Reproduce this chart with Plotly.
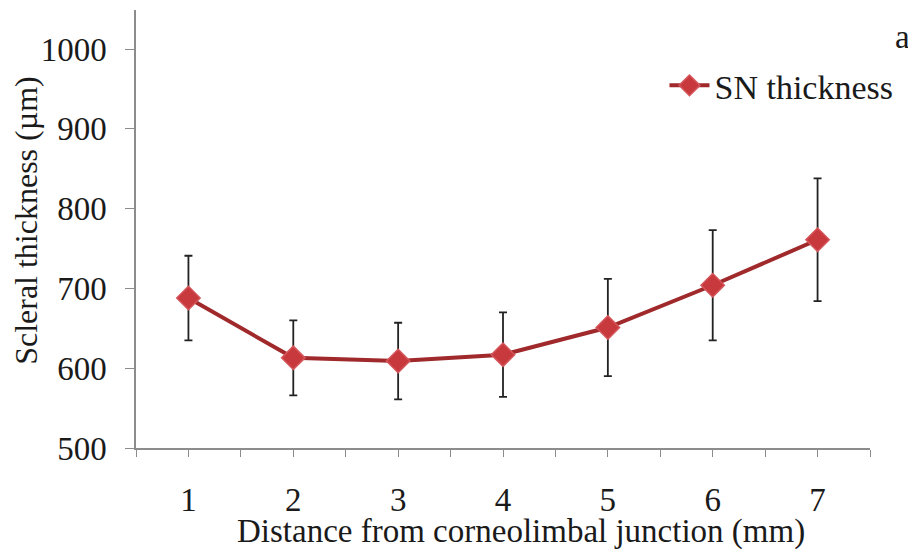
import plotly.graph_objects as go

distance = [1, 2, 3, 4, 5, 6, 7]
tick_labels = ["1", "2", "3", "4", "5", "6", "7"]
sn_thickness = [688, 613, 609, 617, 651, 704, 761]
sn_error = [53, 47, 48, 53, 61, 69, 77]

tickvals = []
ticktext = []
for i, d in enumerate(distance):
    tickvals.append(d - 0.5)
    ticktext.append("")
    tickvals.append(d)
    ticktext.append(tick_labels[i])
tickvals.append(distance[-1] + 0.5)
ticktext.append("")

serif = "Liberation Serif, Times New Roman, serif"
FS = 33

# page body has an 8px default margin; size the figure to fit the 916x551 window
fig = go.Figure()
fig.add_trace(go.Scatter(
    x=distance, y=sn_thickness, name="SN thickness",
    mode="lines+markers",
    line=dict(color="#A0292C", width=4),
    marker=dict(symbol="diamond", size=18, color="#C8393D",
                line=dict(color="#D4555A", width=1.5)),
    error_y=dict(type="data", array=sn_error, visible=True,
                 color="#222222", thickness=1.8, width=4),
))

fig.update_layout(
    width=908, height=543,
    margin=dict(l=128, r=46, t=2, b=103),
    paper_bgcolor="white", plot_bgcolor="white",
    font=dict(family=serif, size=FS, color="#1a1a1a"),
    showlegend=True,
    legend=dict(x=0.72, y=0.827, xanchor="left", yanchor="middle",
                bgcolor="rgba(0,0,0,0)", font=dict(size=34, family=serif),
                itemwidth=40),
    xaxis=dict(
        range=[0.5, 7.5], tickmode="array", tickvals=tickvals, ticktext=ticktext,
        showgrid=False, zeroline=False, showline=True, linecolor="#8c8c8c",
        linewidth=1.5, ticks="outside", ticklen=7, tickcolor="#8c8c8c",
        tickfont=dict(size=FS, family=serif), ticklabelstandoff=15,
        automargin=False,
    ),
    yaxis=dict(
        range=[500, 1049], tickvals=[500, 600, 700, 800, 900, 1000],
        showgrid=False, zeroline=False, showline=True, linecolor="#8c8c8c",
        linewidth=1.5, ticks="outside", ticklen=9, tickcolor="#8c8c8c",
        tickfont=dict(size=FS, family=serif), automargin=False,
        ticklabelstandoff=12,
    ),
    annotations=[
        dict(text="a", x=1.044, y=0.938, xref="paper", yref="paper",
             showarrow=False, font=dict(size=FS, family=serif),
             xanchor="center", yanchor="middle"),
        dict(text="Scleral thickness (µm)", x=-0.149, y=0.52,
             xref="paper", yref="paper", textangle=-90, showarrow=False,
             font=dict(size=32, family=serif), xanchor="center", yanchor="middle"),
        dict(text="Distance from corneolimbal junction (mm)", x=0.5245, y=-0.19,
             xref="paper", yref="paper", showarrow=False,
             font=dict(size=FS, family=serif), xanchor="center", yanchor="middle"),
    ],
)

fig.write_html("out.html")
